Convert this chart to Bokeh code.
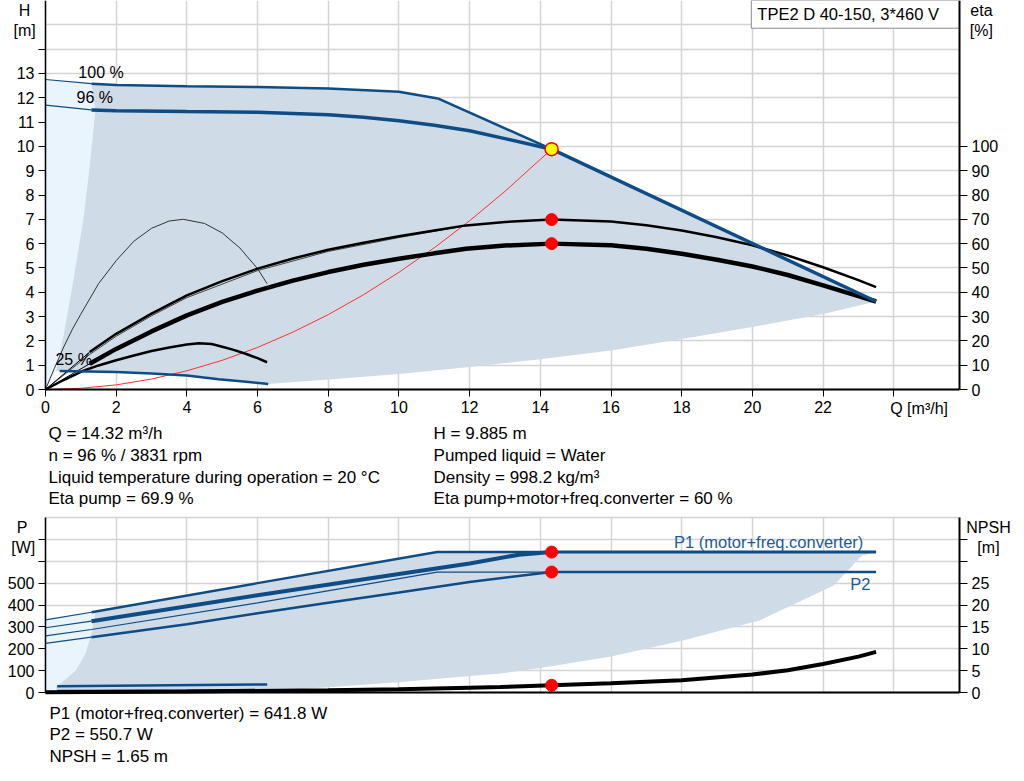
from bokeh.plotting import figure
from bokeh.models import Range1d, LinearAxis, FixedTicker, Grid
from bokeh.core.properties import value
from bokeh.layouts import column
from bokeh.embed import file_html
from bokeh.resources import INLINE

FONT = "Liberation Sans"
BLUE = "#0f4c85"
TXTBLUE = "#1d5a9a"
DARK_FILL = "#cfdbe7"
LIGHT_FILL = "#eaf4fd"
GRID = "#d4d4d4"

# ---------------- data: head / efficiency chart ----------------
x_ticks = [0, 2, 4, 6, 8, 10, 12, 14, 16, 18, 20, 22]
x_extra_ticks = [24]
x_grid = [0, 2, 4, 6, 8, 10, 12, 14, 16, 18, 20, 22, 24]
h_ticks = list(range(0, 14))
h_extra_ticks = [14]
h_grid = list(range(0, 17))
eta_ticks = list(range(0, 101, 10))

q_h100 = [0, 1.3, 2, 4, 6, 8, 10, 11.1]
h_100 = [12.75, 12.58, 12.52, 12.47, 12.44, 12.38, 12.25, 11.97]
q_lim = [11.1, 14.32]
h_lim = [11.97, 9.885]
q_max = [14.32, 23.5]
h_max = [9.885, 3.62]
q_h96 = [0, 1.3, 2, 4, 6, 8, 9, 10, 11, 12, 13, 14.32]
h_96 = [11.7, 11.5, 11.47, 11.43, 11.4, 11.3, 11.2, 11.05, 10.87, 10.64, 10.32, 9.885]
q_h25 = [0.4, 2, 3, 4, 4.9, 5.6, 6.3]
h_25 = [0.76, 0.72, 0.66, 0.58, 0.42, 0.33, 0.23]
q_hmin = [6.3, 8, 10, 12, 14, 16, 18, 20, 22, 23.5]
h_min = [0.23, 0.41, 0.64, 0.93, 1.24, 1.6, 2.08, 2.57, 3.11, 3.62]
q_hedge = [1.41, 1.25, 1.08, 0.8, 0.52, 0.3]
h_edge = [11.48, 9.2, 7.09, 4.6, 2.29, 0.76]
q_sys = [0, 1, 2, 3, 4, 5, 6, 7, 8, 9, 10, 11, 12, 13, 14.32]
h_sys = [0, 0.05, 0.19, 0.43, 0.77, 1.2, 1.73, 2.36, 3.08, 3.9, 4.82, 5.83, 6.94, 8.15, 9.885]

q_eta = [0, 1.25, 2, 3, 4, 5, 6, 7, 8, 9, 10, 11, 11.9, 13, 14.32, 16, 17, 18, 19, 20, 21, 22, 23, 23.5]
eta_pump = [0, 15.4, 22.9, 31.2, 38.7, 44.6, 49.7, 53.9, 57.5, 60.4, 63, 65.4, 67.5, 68.9, 69.9,
            69.1, 67.6, 65.4, 62.6, 59.3, 55.1, 50.3, 45, 42.1]
eta_total = [0, 10.6, 16.7, 23.9, 30.5, 36, 40.7, 44.8, 48.3, 51.3, 53.8, 56, 57.9, 59.2, 60,
             59.3, 57.9, 55.8, 53.4, 50.6, 47.1, 42.8, 38.4, 36.2]
q_eta100 = [0, 1.25, 2, 3, 4, 6, 8, 10, 12]
eta_pump100 = [0, 14.4, 21.9, 30.3, 37.8, 48.9, 56.8, 62.5, 67.6]
q_eta25 = [0, 0.25, 0.5, 0.75, 1, 1.5, 2, 2.5, 3, 3.5, 3.9, 4.5, 5, 5.5, 6, 6.27]
eta_pump25 = [0, 8.7, 17, 24.5, 31, 43.5, 53, 61, 66.3, 69.3, 70, 68.3, 64.4, 58.2, 49.7, 43.5]
q_etat25 = [0, 0.5, 1, 1.5, 2, 2.5, 3, 3.5, 4, 4.34, 4.7, 5, 5.3, 5.66, 6, 6.27]
eta_total25 = [0, 3.8, 7.3, 9.9, 12, 14, 15.8, 17.3, 18.5, 19, 18.7, 17.6, 16.4, 14.7, 12.9, 11.2]

duty_q = [14.32]
duty_h = [9.885]
duty_eta = [69.9, 60]

# ---------------- data: power / NPSH chart ----------------
p_ticks = list(range(0, 501, 100))
p_extra_ticks = [600, 700]
p_grid = list(range(0, 801, 100))
npsh_ticks = list(range(0, 26, 5))
npsh_extra_ticks = [30, 35]

q_p1_100 = [0, 1.3, 6, 11.08, 14.32]
p1_100 = [332, 367, 500, 641.8, 641.8]
q_p1_96 = [0, 1.3, 6, 10, 12, 13.4, 14.32]
p1_96 = [296, 326, 445, 542, 590, 630, 641.8]
q_p1_after = [14.32, 23.5]
p1_after = [641.8, 641.8]
q_p2_100 = [0, 1.3, 6, 11.08, 14.32]
p2_100 = [259, 288, 410, 550.7, 550.7]
q_p2_96 = [0, 1.3, 4, 6, 8, 10, 12, 14.32]
p2_96 = [225, 253, 312, 362, 410, 457, 505, 550.7]
q_p2_after = [14.32, 23.5]
p2_after = [550.7, 550.7]
q_p25 = [0.33, 6.27]
p1_25 = [29, 37]
p2_25 = [8, 11]
q_pmin = [0.33, 6.3, 8, 10, 12, 12.87, 14, 16, 18, 20.2, 22.3, 23.1, 23.5]
p_min = [8, 8, 24, 47, 76, 87, 112, 165, 237, 329, 489, 626, 641.8]
q_pedge = [1.41, 1.32, 1.13, 0.85, 0.47, 0.28]
p_edge = [367, 283, 177, 100, 47, 24]
q_npsh = [0, 1.27, 4, 8, 10, 12, 12.87, 14.32, 16, 18, 20, 21, 22, 23, 23.5]
npsh = [0.05, 0.12, 0.25, 0.5, 0.75, 1.1, 1.25, 1.65, 2.1, 2.8, 4.1, 5.1, 6.5, 8.2, 9.3]
duty_p = [641.8, 550.7]
duty_npsh = [1.65]

info_top_left = ["Q = 14.32 m³/h", "n = 96 % / 3831 rpm",
                 "Liquid temperature during operation = 20 °C", "Eta pump = 69.9 %"]
info_top_right = ["H = 9.885 m", "Pumped liquid = Water",
                  "Density = 998.2 kg/m³", "Eta pump+motor+freq.converter = 60 %"]
info_bottom = ["P1 (motor+freq.converter) = 641.8 W", "P2 = 550.7 W", "NPSH = 1.65 m"]
title_text = "TPE2 D 40-150, 3*460 V"

# ---------------- layout geometry ----------------
Q_END = 25.86
FRAME_W = 914
LEFT_PAD, RIGHT_PAD = 45, 57
PXU = FRAME_W / Q_END
X0 = -LEFT_PAD / PXU
X1 = Q_END + RIGHT_PAD / PXU
CANVAS_W = LEFT_PAD + FRAME_W + RIGHT_PAD

HAS_CROSS = "cross_bounds" in Grid.properties()


def style_axis(ax, lw, show_labels=True):
    ax.axis_line_color = "black" if lw else None
    ax.axis_line_width = lw if lw else 1
    ax.major_tick_line_color = "black"
    ax.major_tick_line_width = 1
    ax.major_tick_out = 7
    ax.major_tick_in = 0
    ax.minor_tick_line_color = None
    ax.major_label_text_font = FONT
    ax.major_label_text_font_size = "16px"
    ax.major_label_text_color = "black" if show_labels else None
    ax.major_label_standoff = 4


def lab(p, x, y, text, align="left", color="black", size="16px", rng="default"):
    p.text(x=[x], y=[y], text=[text], text_align=align, text_baseline="middle",
           text_font=value(FONT), text_font_size=value(size), text_color=color,
           y_range_name=rng)


def add_grids(p, xt, yt, ytop):
    gx = Grid(dimension=0, ticker=FixedTicker(ticks=xt), grid_line_color=GRID, grid_line_width=1.5)
    gy = Grid(dimension=1, ticker=FixedTicker(ticks=yt), grid_line_color=GRID, grid_line_width=1.5)
    if HAS_CROSS:
        gx.cross_bounds = (0, ytop)
        gy.cross_bounds = (0, Q_END)
    p.add_layout(gx)
    p.add_layout(gy)


def add_masks(p, y0, ytop):
    if not HAS_CROSS:
        p.quad(left=[X0, Q_END, X0], right=[0, X1, X1], bottom=[y0, y0, y0], top=[ytop, ytop, 0],
               fill_color="white", line_color=None)


def make_fig(y0, y1, height):
    p = figure(x_range=Range1d(X0, X1), y_range=Range1d(y0, y1),
               width=CANVAS_W, height=height, min_border=0,
               x_axis_location=None, y_axis_location=None,
               output_backend="svg", toolbar_location=None)
    p.xgrid.visible = False
    p.ygrid.visible = False
    p.outline_line_color = None
    return p


def axis(p, side, loc, bounds, ticks, lw, labels=True, rng=None, tick_out=7):
    kw = {}
    if rng:
        kw["y_range_name"] = rng
    ax = LinearAxis(fixed_location=loc, bounds=bounds, ticker=FixedTicker(ticks=ticks), **kw)
    style_axis(ax, lw, labels)
    ax.major_tick_out = tick_out
    p.add_layout(ax, side)
    return ax


# ================= top chart =================
TOP_FRAME_H, TOP_BOTTOM = 389, 121
H_END = 16
HY0 = -TOP_BOTTOM * H_END / TOP_FRAME_H
pt = make_fig(HY0, H_END, TOP_FRAME_H + TOP_BOTTOM)
pt.extra_y_ranges = {"eta": Range1d(HY0 * 10, H_END * 10)}
add_grids(pt, x_grid, h_grid, H_END)
add_masks(pt, HY0, H_END)

axis(pt, "below", 0, (0, Q_END), x_ticks, 2)
axis(pt, "below", 0, (0, Q_END), x_extra_ticks, 0, labels=False)
axis(pt, "left", 0, (0, H_END), h_ticks, 1.5)
axis(pt, "left", 0, (0, H_END), h_extra_ticks, 0, labels=False)
axis(pt, "right", Q_END, (0, H_END * 10), eta_ticks, 2, rng="eta", tick_out=8)

# fills
light_x = [0] + q_h100[0:2] + q_hedge + [0]
light_y = [0] + h_100[0:2] + h_edge + [0]
pt.patch(light_x, light_y, fill_color=LIGHT_FILL, line_color=None)
dark_x = q_h100[1:] + q_lim[1:] + q_max[1:] + q_hmin[::-1] + q_h25[::-1] + q_hedge[::-1]
dark_y = h_100[1:] + h_lim[1:] + h_max[1:] + h_min[::-1] + h_25[::-1] + h_edge[::-1]
pt.patch(dark_x, dark_y, fill_color=DARK_FILL, line_color=None)

# title box
pt.quad(left=[19.97], right=[Q_END], bottom=[14.86], top=[H_END],
        fill_color="white", line_color="#8c8c8c", line_width=1)
lab(pt, 20.14, 15.43, title_text, size="16.5px")

# system curve
pt.line(q_sys, h_sys, line_color="#ff3030", line_width=1)

# efficiency curves
pt.line(q_eta25, eta_pump25, y_range_name="eta", line_color="#333333", line_width=1)
pt.line(q_etat25, eta_total25, y_range_name="eta", line_color="black", line_width=2.5)
pt.line(q_eta100, eta_pump100, y_range_name="eta", line_color="#444444", line_width=1)
pt.line(q_eta[0:2], eta_pump[0:2], y_range_name="eta", line_color="black", line_width=1)
pt.line(q_eta[1:], eta_pump[1:], y_range_name="eta", line_color="black", line_width=2.5)
pt.line(q_eta[0:2], eta_total[0:2], y_range_name="eta", line_color="black", line_width=1)
pt.line(q_eta[1:], eta_total[1:], y_range_name="eta", line_color="black", line_width=4.5)

# head curves
pt.line(q_h25, h_25, line_color=BLUE, line_width=2.5)
pt.line(q_h100[0:2], h_100[0:2], line_color=BLUE, line_width=1.2)
pt.line(q_h100[1:], h_100[1:], line_color=BLUE, line_width=2.5)
pt.line(q_lim, h_lim, line_color=BLUE, line_width=2.5)
pt.line(q_h96[0:2], h_96[0:2], line_color=BLUE, line_width=1.2)
pt.line(q_h96[1:], h_96[1:], line_color=BLUE, line_width=3.5)
pt.line(q_max, h_max, line_color=BLUE, line_width=3.5)

# duty points
pt.scatter(duty_q * 2, duty_eta, y_range_name="eta", size=12, fill_color="#ff0000", line_color="#ff0000")
pt.scatter(duty_q, duty_h, size=13, fill_color="#ffff00", line_color="#ff0000", line_width=1.5)

# curve labels
lab(pt, 0.93, 13.05, "100 %")
lab(pt, 0.88, 12.02, "96 %")
lab(pt, 0.28, 1.23, "25 %")

# axis titles
lab(pt, -0.59, 15.6, "H", align="center")
lab(pt, -0.59, 14.77, "[m]", align="center")
lab(pt, 26.48, 15.6, "eta", align="center")
lab(pt, 26.48, 14.77, "[%]", align="center")
lab(pt, 23.9, -0.78, "Q [m³/h]")

# info text
rows_top = [-1.82, -2.73, -3.6, -4.47]
for txt, yy in zip(info_top_left, rows_top):
    lab(pt, 0.085, yy, txt, size="17px")
for txt, yy in zip(info_top_right, rows_top):
    lab(pt, 10.98, yy, txt, size="17px")

# ================= bottom chart =================
BOT_TOP, BOT_FRAME_H, BOT_BOTTOM = 7, 175, 75
P_END = 800
WPX = P_END / BOT_FRAME_H
PY0 = -BOT_BOTTOM * WPX
PY1 = P_END + BOT_TOP * WPX
pb = make_fig(PY0, PY1, BOT_TOP + BOT_FRAME_H + BOT_BOTTOM)
pb.extra_y_ranges = {"npsh": Range1d(PY0 / 20, PY1 / 20)}
add_grids(pb, x_grid, p_grid, P_END)
add_masks(pb, PY0, PY1)

xb = axis(pb, "below", 0, (0, Q_END), [], 2, labels=False)
axis(pb, "left", 0, (0, P_END), p_ticks, 1.5)
axis(pb, "left", 0, (0, P_END), p_extra_ticks, 0, labels=False)
axis(pb, "right", Q_END, (0, P_END / 20), npsh_ticks, 2, rng="npsh", tick_out=8)
axis(pb, "right", Q_END, (0, P_END / 20), npsh_extra_ticks, 0, labels=False, rng="npsh", tick_out=8)

blight_x = [0] + q_p1_100[0:2] + q_pedge + [0.28, 0]
blight_y = [0] + p1_100[0:2] + p_edge + [0, 0]
pb.patch(blight_x, blight_y, fill_color=LIGHT_FILL, line_color=None)
bdark_x = q_p1_100[1:] + q_p1_after[1:] + q_pmin[::-1] + q_pedge[::-1]
bdark_y = p1_100[1:] + p1_after[1:] + p_min[::-1] + p_edge[::-1]
pb.patch(bdark_x, bdark_y, fill_color=DARK_FILL, line_color=None)

pb.line(q_p25, p1_25, line_color=BLUE, line_width=2.5)
pb.line(q_p25, p2_25, line_color=BLUE, line_width=2)
pb.line(q_p2_100, p2_100, line_color=BLUE, line_width=1.2)
pb.line(q_p2_96[0:2], p2_96[0:2], line_color=BLUE, line_width=1.2)
pb.line(q_p2_96[1:], p2_96[1:], line_color=BLUE, line_width=2.5)
pb.line(q_p2_after, p2_after, line_color=BLUE, line_width=2.5)
pb.line(q_p1_100[0:2], p1_100[0:2], line_color=BLUE, line_width=1.2)
pb.line(q_p1_100[1:], p1_100[1:], line_color=BLUE, line_width=2.5)
pb.line(q_p1_96[0:2], p1_96[0:2], line_color=BLUE, line_width=1.2)
pb.line(q_p1_96[1:], p1_96[1:], line_color=BLUE, line_width=4)
pb.line(q_p1_after, p1_after, line_color=BLUE, line_width=3)
pb.line(q_npsh, npsh, y_range_name="npsh", line_color="black", line_width=4)

pb.scatter(duty_q * 2, duty_p, size=12, fill_color="#ff0000", line_color="#ff0000")
pb.scatter(duty_q, duty_npsh, y_range_name="npsh", size=12, fill_color="#ff0000", line_color="#ff0000")

lab(pb, 23.14, 690, "P1 (motor+freq.converter)", align="right", color=TXTBLUE, size="16.5px")
lab(pb, 23.34, 498, "P2", align="right", color=TXTBLUE, size="16.5px")

lab(pb, -0.66, 753, "P", align="center")
lab(pb, -0.63, 662, "[W]", align="center")
lab(pb, 26.68, 753, "NPSH", align="center")
lab(pb, 26.68, 662, "[m]", align="center")

rows_bot = [-94, -192, -292]
for txt, yy in zip(info_bottom, rows_bot):
    lab(pb, 0.11, yy, txt, size="17px")

layout = column(pt, pb)
open("out.html", "w").write(file_html(layout, INLINE))
